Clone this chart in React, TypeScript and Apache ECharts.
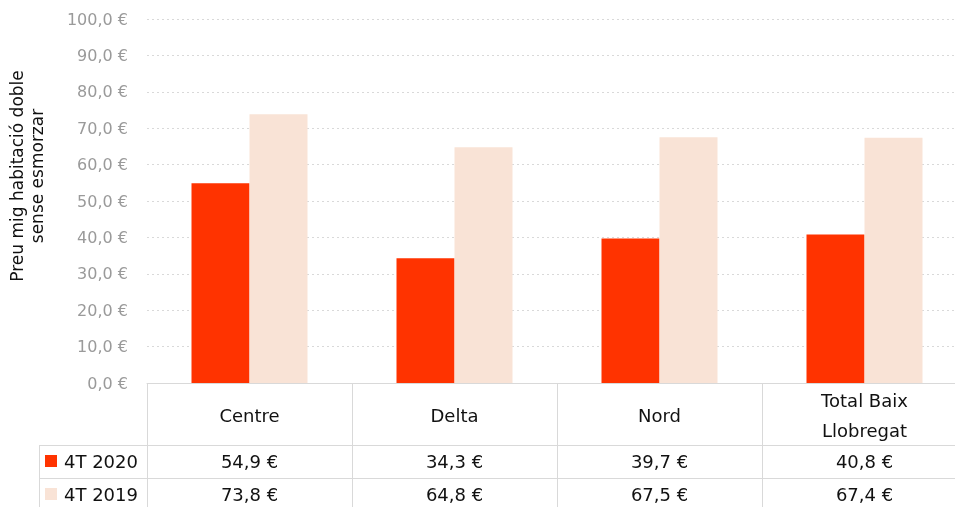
import React, { useEffect, useRef } from "react";
import * as echarts from "echarts";

const categories = ["Centre", "Delta", "Nord", "Total Baix\nLlobregat"];
const seriesNames = ["4T 2020", "4T 2019"];
const values2020 = [54.9, 34.3, 39.7, 40.8];
const values2019 = [73.8, 64.8, 67.5, 67.4];
const yTitle = "Preu mig habitació doble\nsense esmorzar";

const RED = "#ff3300";
const PINK = "#f9e3d6";
const LINE = "#d9d9d9";
const FONT = "DejaVu Sans";

const fmt = (v: number) => v.toFixed(1).replace(".", ",") + " €";

export default function App() {
  const ref = useRef<HTMLDivElement>(null);
  useEffect(() => {
    if (!ref.current) return;
    const chart = echarts.init(ref.current, undefined, { renderer: "svg" });
    const tableAxis = (offset: number, vals: number[]) => ({
      type: "category",
      data: categories,
      position: "bottom",
      offset,
      axisLine: { show: true, lineStyle: { color: LINE, width: 1 } },
      axisTick: { show: false },
      axisLabel: {
        margin: 16,
        verticalAlign: "middle",
        color: "#111",
        fontFamily: FONT,
        fontSize: 18,
        interval: 0,
        formatter: (_v: string, i: number) => fmt(vals[i]),
      },
    });
    chart.setOption({
      animation: false,
      textStyle: { fontFamily: FONT },
      grid: { left: 147, top: 19, width: 820, height: 364, containLabel: false, outerBoundsMode: "none" },
      legend: {
        orient: "vertical",
        left: 45,
        top: 452,
        height: 100,
        padding: 0,
        itemWidth: 12,
        itemHeight: 12,
        itemGap: 15,
        icon: "rect",
        textStyle: { color: "#111", fontSize: 18, fontFamily: FONT, lineHeight: 18, padding: [0, 0, 0, 2] },
        data: seriesNames,
      },
      xAxis: [
        {
          type: "category",
          data: categories,
          axisLine: { show: true, lineStyle: { color: LINE, width: 1 } },
          axisTick: { show: true, length: 130, lineStyle: { color: LINE, width: 1 }, alignWithLabel: false },
          axisLabel: {
            margin: 32,
            verticalAlign: "middle",
            color: "#111",
            fontFamily: FONT,
            fontSize: 18,
            lineHeight: 30,
            interval: 0,
          },
        },
        tableAxis(62, values2020),
        tableAxis(95, values2019),
      ],
      yAxis: {
        type: "value",
        min: 0,
        max: 100,
        interval: 10,
        axisLine: { show: false },
        axisTick: { show: false },
        splitLine: { lineStyle: { color: LINE, type: [2, 3], width: 1 } },
        axisLabel: {
          margin: 19,
          color: "#9a9a9a",
          fontFamily: FONT,
          fontSize: 16,
          formatter: (v: number) => fmt(v),
        },
      },
      series: [
        {
          name: seriesNames[0],
          type: "bar",
          data: values2020,
          barWidth: 58,
          barGap: "0%",
          itemStyle: { color: RED },
          xAxisIndex: 0,
        },
        {
          name: seriesNames[1],
          type: "bar",
          data: values2019,
          barWidth: 58,
          barGap: "0%",
          itemStyle: { color: PINK },
          xAxisIndex: 0,
        },
      ],
      graphic: [
        { type: "line", shape: { x1: 39, y1: 445.5, x2: 147, y2: 445.5 }, style: { stroke: LINE, lineWidth: 1 } },
        { type: "line", shape: { x1: 39, y1: 478.5, x2: 147, y2: 478.5 }, style: { stroke: LINE, lineWidth: 1 } },
        { type: "line", shape: { x1: 39.5, y1: 445, x2: 39.5, y2: 507 }, style: { stroke: LINE, lineWidth: 1 } },
        {
          type: "text",
          x: 27,
          y: 176,
          rotation: Math.PI / 2,
          style: {
            text: yTitle,
            fontFamily: FONT,
            fontSize: 17,
            lineHeight: 20,
            fill: "#111",
            textAlign: "center",
            textVerticalAlign: "middle",
          },
        },
      ],
    });
    return () => chart.dispose();
  }, []);
  return <div ref={ref} style={{ position: "fixed", left: 0, top: 0, width: 955, height: 507 }} />;
}
